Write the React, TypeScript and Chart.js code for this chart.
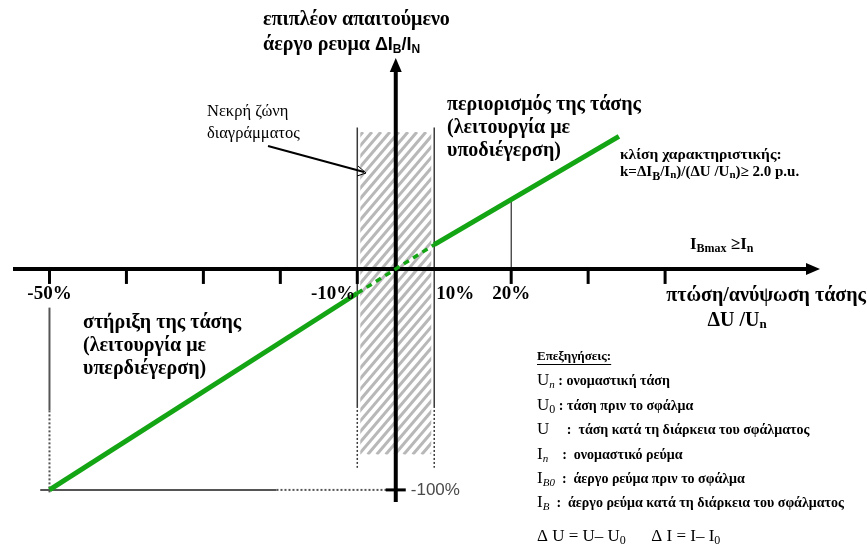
import React, { useEffect, useRef } from 'react';
import { Chart, registerables, LinearScale } from 'chart.js';

Chart.register(...registerables);

// ---------------- data ----------------
const voltageDeviation = [-50, -10, 0, 10, 34]; // ΔU/Un  (%)
const reactiveCurrent = [-100, -11, 0, 11, 60]; // ΔIB/IN (%)
const deadZone = [-10, 10]; // dead band of the characteristic (%)
const xTickValues = [-50, -40, -30, -20, -10, 20, 30, 40];
const xLabelValues = [-50, -10, 10, 20];
const xLabelTexts = ['-50%', '-10%', '10%', '20%'];
const yTickValues = [-100];
const yTickTexts = ['-100%'];
const guideX = 20; // IBmax guide
const X_MIN = -55;
const X_MAX = 60;
const Y_MIN = -110;
const Y_MAX = 100;

// compressed dead band in the horizontal scale
const ZONE = 10;
const ZONE_FACTOR = 0.5;

class DeadZoneScale extends LinearScale {
  static id = 'deadzone';
  static defaults = LinearScale.defaults;
  _fwd(v: number) {
    const a = Math.abs(v);
    const s = Math.sign(v);
    return a <= ZONE ? v * ZONE_FACTOR : s * (ZONE * ZONE_FACTOR + a - ZONE);
  }
  _inv(u: number) {
    const a = Math.abs(u);
    const s = Math.sign(u);
    const z = ZONE * ZONE_FACTOR;
    return a <= z ? u / ZONE_FACTOR : s * (a - z + ZONE);
  }
  getPixelForValue(value: any) {
    if (value === null || value === undefined || isNaN(value)) return NaN;
    const a = this._fwd(this.min);
    const b = this._fwd(this.max);
    return this.getPixelForDecimal((this._fwd(value) - a) / (b - a));
  }
  getValueForPixel(pixel: number) {
    const a = this._fwd(this.min);
    const b = this._fwd(this.max);
    return this._inv(a + this.getDecimalForPixel(pixel) * (b - a));
  }
}
Chart.register(DeadZoneScale as any);

const SERIF = '"Liberation Serif", "DejaVu Serif", serif';
const SANS = '"Liberation Sans", Arial, sans-serif';
const B = (s: number) => `bold ${s}px ${SERIF}`;
const R = (s: number) => `${s}px ${SERIF}`;
const I = (s: number) => `italic ${s}px ${SERIF}`;
const BS = (s: number) => `bold ${s}px ${SANS}`;

type Seg = { t: string; f: string; dy?: number };
function rich(ctx: CanvasRenderingContext2D, segs: Seg[], x: number, y: number, align = 'left', underline = false) {
  let w = 0;
  for (const s of segs) {
    ctx.font = s.f;
    w += ctx.measureText(s.t).width;
  }
  let cx = align === 'left' ? x : align === 'right' ? x - w : x - w / 2;
  const startX = cx;
  ctx.textAlign = 'left';
  ctx.textBaseline = 'middle';
  for (const s of segs) {
    ctx.font = s.f;
    ctx.fillText(s.t, cx, y + (s.dy || 0));
    cx += ctx.measureText(s.t).width;
  }
  if (underline) {
    ctx.fillRect(startX, y + 7, w, 1);
  }
}

function lineValueAt(v: number) {
  for (let i = 0; i < voltageDeviation.length - 1; i++) {
    const x0 = voltageDeviation[i], x1 = voltageDeviation[i + 1];
    if (v >= x0 && v <= x1) {
      const t = (v - x0) / (x1 - x0);
      return reactiveCurrent[i] + t * (reactiveCurrent[i + 1] - reactiveCurrent[i]);
    }
  }
  return 0;
}

const diagramPlugin = {
  id: 'diagram',
  beforeDatasetsDraw(chart: any) {
    const { ctx, scales, chartArea } = chart;
    const px = (v: number) => scales.x.getPixelForValue(v);
    const py = (v: number) => scales.y.getPixelForValue(v);
    const x0 = px(0), y0 = py(0);

    // hatched dead zone
    const l = px(deadZone[0]), r = px(deadZone[1]);
    const top = py(62), bot = py(-84);
    ctx.save();
    ctx.beginPath();
    ctx.rect(l + 3, top, r - l - 6, bot - top);
    ctx.clip();
    ctx.strokeStyle = '#b8b8b8';
    ctx.lineWidth = 3;
    for (let k = -(bot - top); k < r - l + 10; k += 9) {
      ctx.beginPath();
      ctx.moveTo(l + k, bot);
      ctx.lineTo(l + k + (bot - top) * 0.85, top);
      ctx.stroke();
    }
    ctx.restore();

    ctx.save();
    // dead zone borders
    ctx.strokeStyle = '#3a3a3a';
    ctx.lineWidth = 1.5;
    for (const v of deadZone) {
      ctx.setLineDash([]);
      ctx.beginPath();
      ctx.moveTo(px(v), py(64));
      ctx.lineTo(px(v), py(-62));
      ctx.stroke();
      ctx.setLineDash([2, 2]);
      ctx.beginPath();
      ctx.moveTo(px(v), py(-62));
      ctx.lineTo(px(v), py(-90));
      ctx.stroke();
    }
    ctx.setLineDash([]);

    // guides at -50% / -100%
    ctx.strokeStyle = '#555';
    ctx.lineWidth = 2;
    ctx.beginPath();
    ctx.moveTo(px(-50), py(-17.5));
    ctx.lineTo(px(-50), py(-64));
    ctx.stroke();
    ctx.setLineDash([2, 2]);
    ctx.beginPath();
    ctx.moveTo(px(-50), py(-64));
    ctx.lineTo(px(-50), py(-102));
    ctx.stroke();
    ctx.setLineDash([]);
    ctx.beginPath();
    ctx.moveTo(px(-51.2), py(-100));
    ctx.lineTo(px(-20.5), py(-100));
    ctx.stroke();
    ctx.setLineDash([2, 2]);
    ctx.beginPath();
    ctx.moveTo(px(-20.5), py(-100));
    ctx.lineTo(px(-1.5), py(-100));
    ctx.stroke();
    ctx.setLineDash([]);

    // guide at 20%
    ctx.strokeStyle = '#000';
    ctx.lineWidth = 1;
    ctx.beginPath();
    ctx.moveTo(px(guideX), y0);
    ctx.lineTo(px(guideX), py(lineValueAt(guideX)));
    ctx.stroke();

    // x axis
    ctx.fillStyle = '#000';
    ctx.strokeStyle = '#000';
    ctx.lineWidth = 4;
    const xEnd = chartArea.right;
    ctx.beginPath();
    ctx.moveTo(chartArea.left + 2, y0);
    ctx.lineTo(xEnd - 10, y0);
    ctx.stroke();
    ctx.beginPath();
    ctx.moveTo(xEnd + 1, y0);
    ctx.lineTo(xEnd - 13, y0 - 6);
    ctx.lineTo(xEnd - 13, y0 + 6);
    ctx.closePath();
    ctx.fill();
    ctx.lineWidth = 3;
    for (const v of xTickValues) {
      ctx.beginPath();
      ctx.moveTo(px(v), y0);
      ctx.lineTo(px(v), y0 + 15);
      ctx.stroke();
    }

    // y axis
    const yTip = py(95.5);
    ctx.lineWidth = 4;
    ctx.beginPath();
    ctx.moveTo(x0, py(-105.5));
    ctx.lineTo(x0, yTip + 10);
    ctx.stroke();
    ctx.beginPath();
    ctx.moveTo(x0, yTip);
    ctx.lineTo(x0 - 6, yTip + 14);
    ctx.lineTo(x0 + 6, yTip + 14);
    ctx.closePath();
    ctx.fill();
    ctx.lineWidth = 3;
    for (const v of yTickValues) {
      ctx.beginPath();
      ctx.moveTo(x0 - 10, py(v));
      ctx.lineTo(x0 + 10, py(v));
      ctx.stroke();
    }
    ctx.restore();
  },
  afterDraw(chart: any) {
    const { ctx, scales } = chart;
    const px = (v: number) => scales.x.getPixelForValue(v);
    const py = (v: number) => scales.y.getPixelForValue(v);
    const x0 = px(0), y0 = py(0);
    ctx.save();
    ctx.fillStyle = '#000';

    // x tick labels
    const labY = y0 + 25;
    xLabelValues.forEach((v, i) => {
      let align = 'center';
      let xx = px(v);
      if (v === -10) { align = 'right'; xx = px(v) - 2; }
      if (v === 10) { align = 'left'; xx = px(v) + 2; }
      rich(ctx, [{ t: xLabelTexts[i], f: B(19) }], xx, labY, align);
    });

    // y tick labels
    ctx.fillStyle = '#4a4a4a';
    yTickValues.forEach((v, i) => {
      rich(ctx, [{ t: yTickTexts[i], f: `17px ${SANS}` }], x0 + 15, py(v), 'left');
    });
    ctx.fillStyle = '#000';

    // y axis title
    rich(ctx, [{ t: 'επιπλέον απαιτούμενο', f: B(20) }], 263, 20);
    rich(ctx, [
      { t: 'άεργο ρευμα ', f: B(20) },
      { t: 'ΔI', f: BS(18) },
      { t: 'B', f: BS(12), dy: 5 },
      { t: '/I', f: BS(18) },
      { t: 'N', f: BS(12), dy: 5 },
    ], 263, 45);

    // x axis title
    rich(ctx, [{ t: 'πτώση/ανύψωση τάσης', f: B(20) }], 866, 296, 'right');
    rich(ctx, [
      { t: 'ΔU /U', f: B(20) },
      { t: 'n', f: B(13), dy: 4 },
    ], 737, 321, 'center');

    // region descriptions
    rich(ctx, [{ t: 'περιορισμός της τάσης', f: B(20) }], 447, 105);
    rich(ctx, [{ t: '(λειτουργία με', f: B(20) }], 447, 128);
    rich(ctx, [{ t: 'υποδιέγερση)', f: B(20) }], 447, 151);

    rich(ctx, [{ t: 'στήριξη της τάσης', f: B(20) }], 83, 323);
    rich(ctx, [{ t: '(λειτουργία με', f: B(20) }], 83, 346);
    rich(ctx, [{ t: 'υπερδιέγερση)', f: B(20) }], 83, 369);

    // dead zone note
    rich(ctx, [{ t: 'Νεκρή ζώνη', f: R(16.5) }], 207, 112);
    rich(ctx, [{ t: 'διαγράμματος', f: R(16.5) }], 207, 134);
    ctx.strokeStyle = '#000';
    ctx.lineWidth = 2;
    ctx.beginPath();
    ctx.moveTo(268, 146);
    ctx.lineTo(364, 172);
    ctx.stroke();
    ctx.lineWidth = 1;
    ctx.beginPath();
    ctx.moveTo(358, 166);
    ctx.lineTo(366, 173);
    ctx.lineTo(357, 176);
    ctx.stroke();

    // slope note
    rich(ctx, [{ t: 'κλίση χαρακτηριστικής:', f: B(15.5) }], 620, 155);
    rich(ctx, [
      { t: 'k=ΔI', f: B(15) },
      { t: 'B', f: B(12), dy: 5 },
      { t: '/I', f: B(15) },
      { t: 'n', f: B(11), dy: 3 },
      { t: ')/(ΔU /U', f: B(15) },
      { t: 'n', f: B(11), dy: 3 },
      { t: ')≥ 2.0 p.u.', f: B(15) },
    ], 620, 172);

    rich(ctx, [
      { t: 'I', f: B(17) },
      { t: 'Bmax', f: B(12), dy: 4 },
      { t: ' ≥I', f: B(17) },
      { t: 'n', f: B(12), dy: 4 },
    ], 690, 245);

    // explanations
    rich(ctx, [{ t: 'Επεξηγήσεις:', f: B(13) }], 537, 357, 'left', true);
    const lx = 537;
    const LB = B(14);
    rich(ctx, [{ t: 'U', f: R(17) }, { t: 'n', f: I(11), dy: 4 }, { t: ' : ονομαστική τάση', f: LB }], lx, 381);
    rich(ctx, [{ t: 'U', f: R(17) }, { t: '0', f: R(12), dy: 4 }, { t: ' : τάση πριν το σφάλμα', f: LB }], lx, 406);
    rich(ctx, [{ t: 'U', f: R(17) }, { t: '     :  τάση κατά τη διάρκεια του σφάλματος', f: LB }], lx, 430);
    rich(ctx, [{ t: 'I', f: R(17) }, { t: 'n', f: I(11), dy: 4 }, { t: '    :  ονομαστικό ρεύμα', f: LB }], lx, 455);
    rich(ctx, [{ t: 'I', f: R(17) }, { t: 'B0', f: I(11), dy: 4 }, { t: '  :  άεργο ρεύμα πριν το σφάλμα', f: LB }], lx, 479);
    rich(ctx, [{ t: 'I', f: R(17) }, { t: 'B', f: I(11), dy: 4 }, { t: '  :  άεργο ρεύμα κατά τη διάρκεια του σφάλματος', f: LB }], lx, 503);
    rich(ctx, [
      { t: 'Δ U = U– U', f: R(17) },
      { t: '0', f: R(12), dy: 4 },
      { t: '      Δ I = I– I', f: R(17) },
      { t: '0', f: R(12), dy: 4 },
    ], lx, 537);
    ctx.restore();
  },
};

export default function App() {
  const ref = useRef<HTMLCanvasElement | null>(null);
  useEffect(() => {
    if (!ref.current) return;
    const inDead = (c: any) => c.p0.parsed.x >= deadZone[0] && c.p1.parsed.x <= deadZone[1];
    const chart = new Chart(ref.current, {
      type: 'line',
      data: {
        datasets: [
          {
            data: voltageDeviation.map((v, i) => ({ x: v, y: reactiveCurrent[i] })),
            borderColor: '#14a514',
            borderWidth: 5,
            pointRadius: 0,
            tension: 0,
            segment: {
              borderDash: (c: any) => (inDead(c) ? [6, 5] : undefined),
              borderWidth: (c: any) => (inDead(c) ? 3.5 : undefined),
            },
          } as any,
        ],
      },
      options: {
        responsive: false,
        animation: false,
        devicePixelRatio: 1,
        events: [],
        layout: { padding: { left: 11, right: 48, top: 48, bottom: 40 } },
        plugins: { legend: { display: false }, tooltip: { enabled: false } },
        scales: {
          x: { type: 'deadzone' as any, min: X_MIN, max: X_MAX, display: false },
          y: { type: 'linear', min: Y_MIN, max: Y_MAX, display: false },
        },
      },
      plugins: [diagramPlugin],
    });
    return () => chart.destroy();
  }, []);
  return (
    <div style={{ position: 'fixed', left: 0, top: 0, width: 867, height: 552, background: '#fff' }}>
      <canvas ref={ref} width={867} height={552} style={{ width: 867, height: 552, display: 'block' }} />
    </div>
  );
}
